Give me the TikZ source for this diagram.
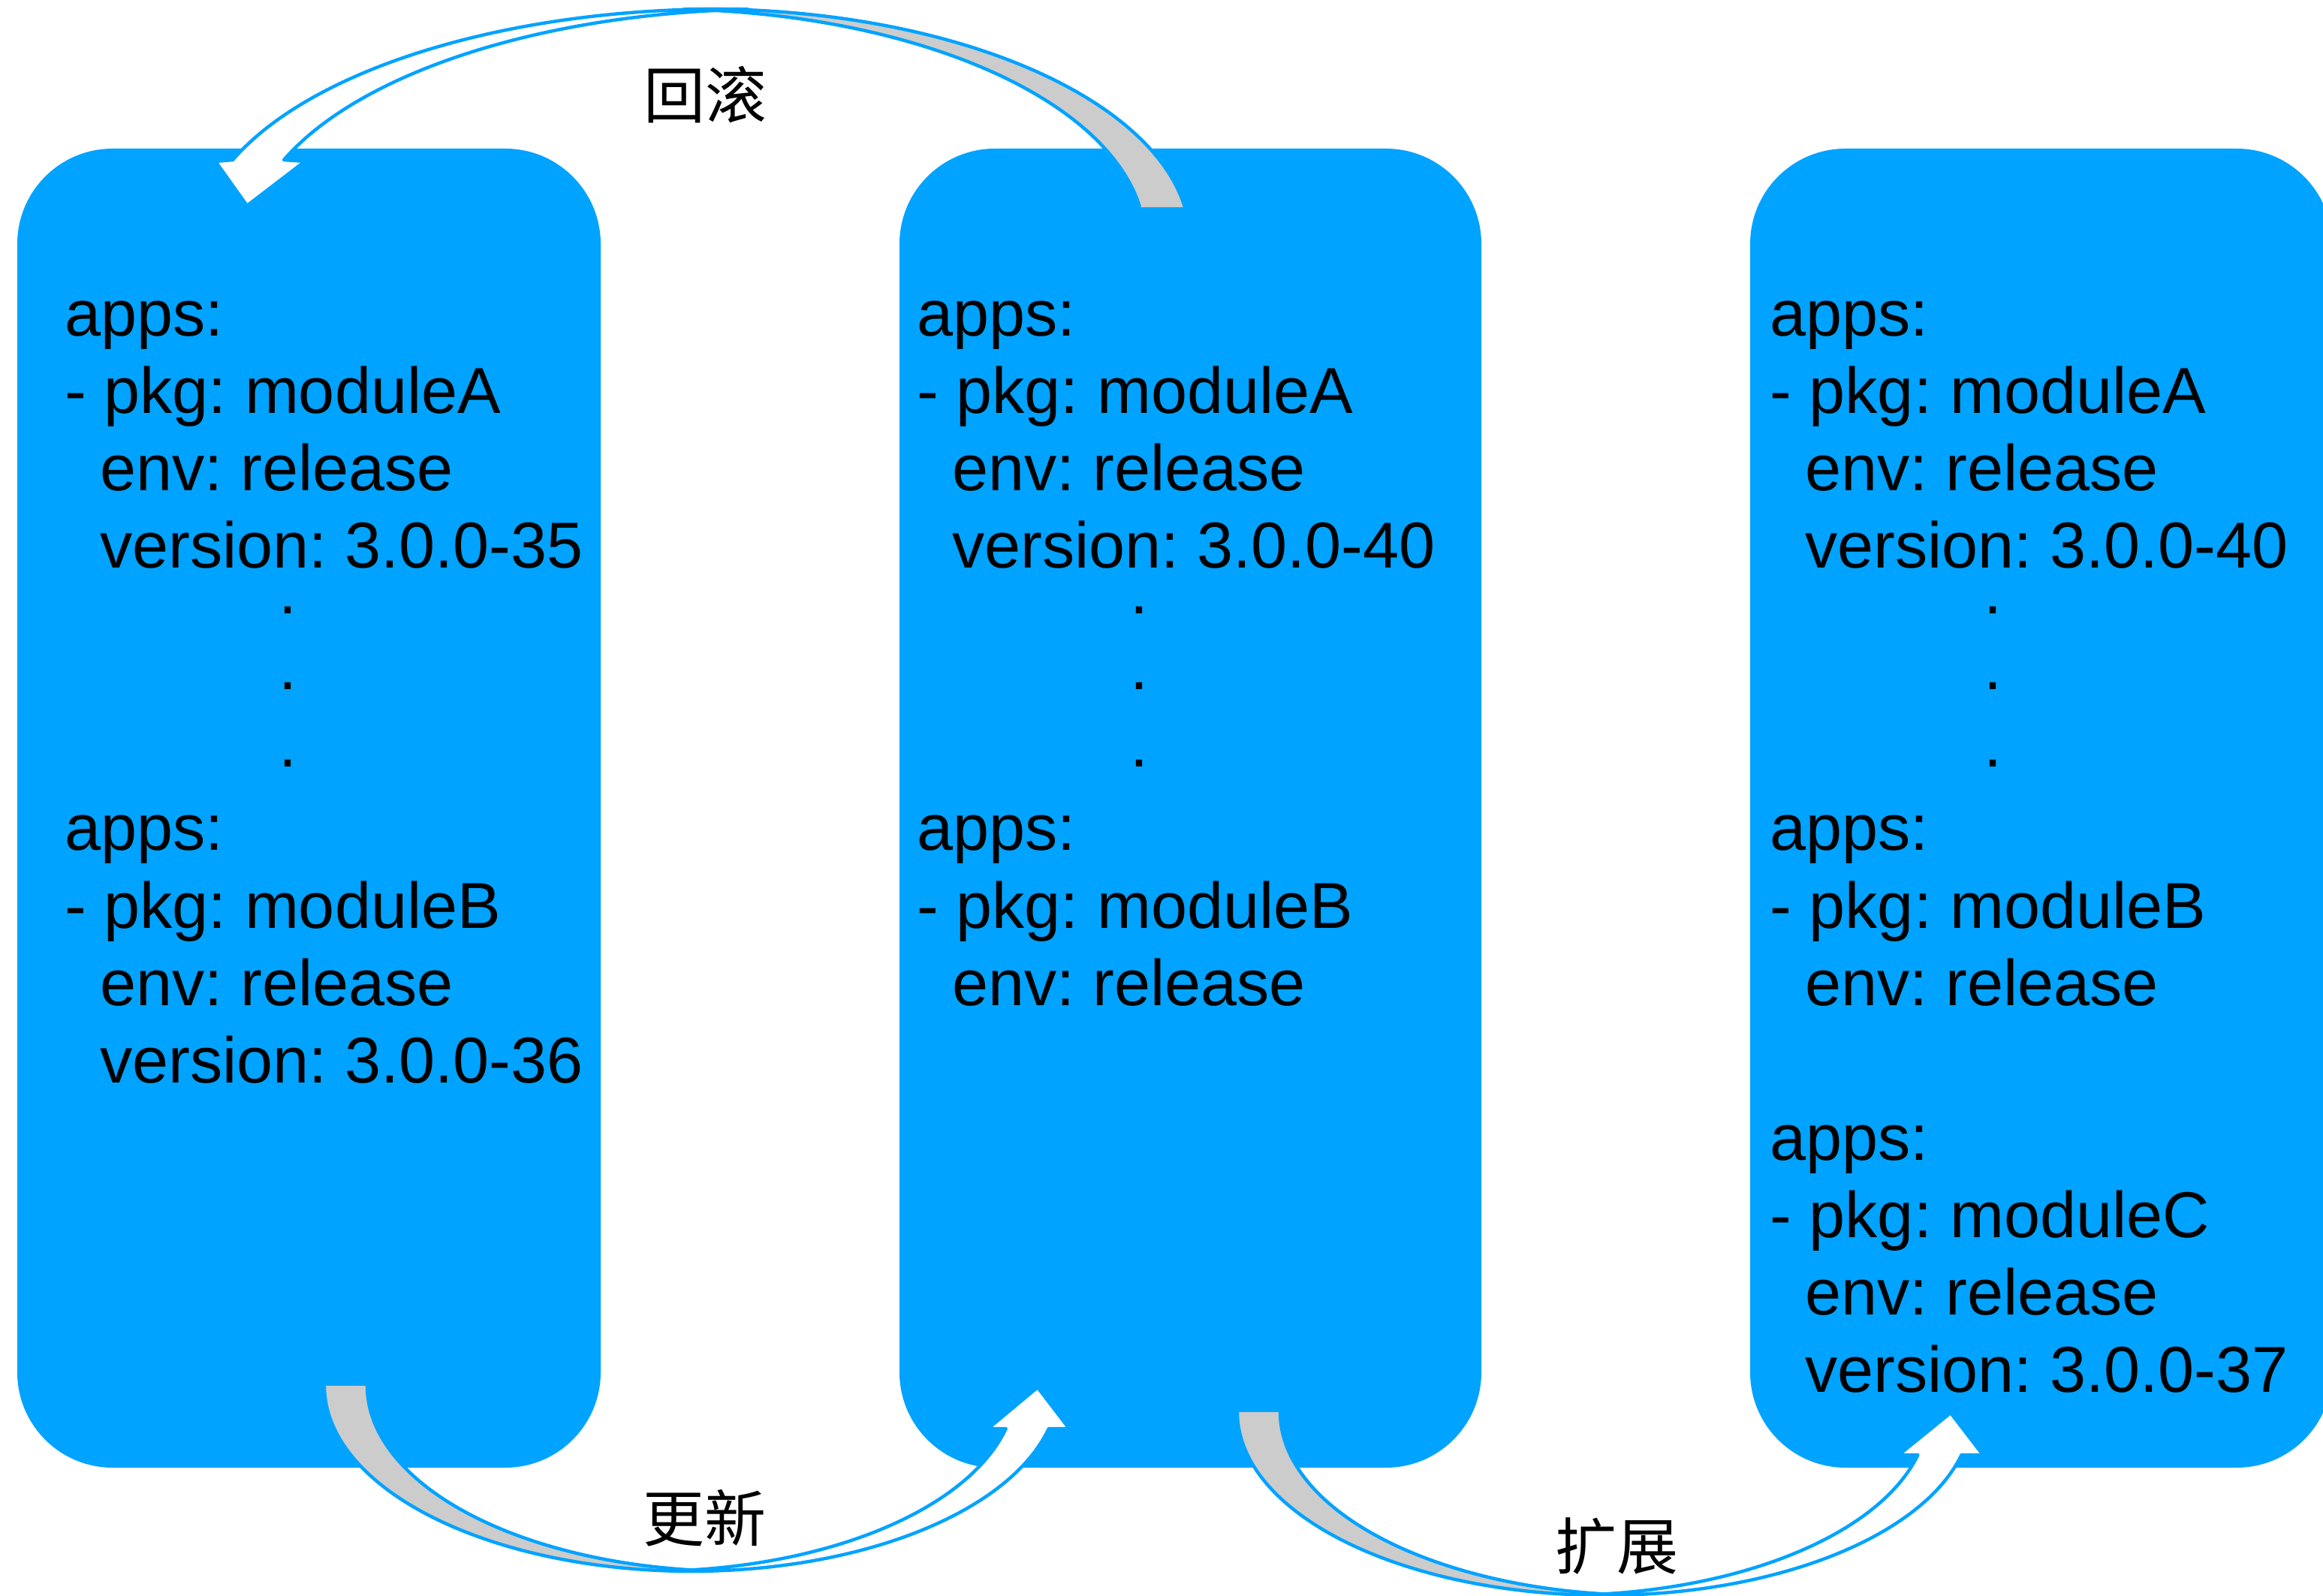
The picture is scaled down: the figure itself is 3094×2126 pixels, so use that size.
\documentclass[tikz,border=0pt]{standalone}
\usepackage{fontspec}
\setmainfont{Liberation Sans}
\newfontfamily\cjk{Noto Sans CJK SC}
\frenchspacing
\definecolor{boxblue}{RGB}{0,163,255}
\definecolor{backgrey}{RGB}{204,204,204}
\tikzset{
  box/.style={fill=boxblue, draw=none, rounded corners=31.75pt, minimum height=439.25pt, inner sep=0pt, outer sep=0pt},
  txt/.style={anchor=base west, inner sep=0pt, outer sep=0pt, text=black, font=\frenchspacing\fontsize{21.6pt}{26pt}\selectfont},
  ellipsisdot/.style={anchor=base, inner sep=0pt, outer sep=0pt, text=black, font=\fontsize{21.6pt}{26pt}\selectfont},
  lbl/.style={inner sep=0pt, outer sep=0pt, text=black, font=\cjk\fontsize{20.5pt}{24pt}\selectfont},
  arrline/.style={draw=boxblue, line width=1.1pt, line join=round}
}
\newcommand\yamlline[4]{\node[txt] (#1) at (#2,#3) {#4};}
\begin{document}
\begin{tikzpicture}[x=0.25pt, y=-0.25pt]
\fill[white] (0,0) rectangle (3094,2126);
\useasboundingbox (0,0) rectangle (3094,2126);

% boxes
\node[box, minimum width=194.25pt] (b1) at (411.5,1076.5) {};
\node[box, minimum width=193.75pt] (b2) at (1585.5,1076.5) {};
\node[box, minimum width=193.75pt] (b3) at (2718.5,1076.5) {};

% box 1 text
\yamlline{a1}{86}{448}{apps:}
\yamlline{a2}{86}{551}{- pkg: moduleA}
\yamlline{a3}{133}{654}{env: release}
\yamlline{a4}{133}{757}{version: 3.0.0-35}
\node[ellipsisdot] (ad1) at (383,818) {.};
\node[ellipsisdot] (ad2) at (383,919) {.};
\node[ellipsisdot] (ad3) at (383,1022) {.};
\yamlline{a5}{86}{1133}{apps:}
\yamlline{a6}{86}{1236}{- pkg: moduleB}
\yamlline{a7}{133}{1339}{env: release}
\yamlline{a8}{133}{1442}{version: 3.0.0-36}

% box 2 text
\yamlline{c1}{1221}{448}{apps:}
\yamlline{c2}{1221}{551}{- pkg: moduleA}
\yamlline{c3}{1268}{654}{env: release}
\yamlline{c4}{1268}{757}{version: 3.0.0-40}
\node[ellipsisdot] (cd1) at (1517,818) {.};
\node[ellipsisdot] (cd2) at (1517,919) {.};
\node[ellipsisdot] (cd3) at (1517,1022) {.};
\yamlline{c5}{1221}{1133}{apps:}
\yamlline{c6}{1221}{1236}{- pkg: moduleB}
\yamlline{c7}{1268}{1339}{env: release}

% box 3 text
\yamlline{e1}{2357}{448}{apps:}
\yamlline{e2}{2357}{551}{- pkg: moduleA}
\yamlline{e3}{2404}{654}{env: release}
\yamlline{e4}{2404}{757}{version: 3.0.0-40}
\node[ellipsisdot] (ed1) at (2654,818) {.};
\node[ellipsisdot] (ed2) at (2654,919) {.};
\node[ellipsisdot] (ed3) at (2654,1022) {.};
\yamlline{e5}{2357}{1133}{apps:}
\yamlline{e6}{2357}{1236}{- pkg: moduleB}
\yamlline{e7}{2404}{1339}{env: release}
\yamlline{e8}{2357}{1545}{apps:}
\yamlline{e9}{2357}{1648}{- pkg: moduleC}
\yamlline{e10}{2404}{1751}{env: release}
\yamlline{e11}{2404}{1854}{version: 3.0.0-37}

% ---- top arrow (rollback), box 2 -> box 1
% back face (grey crescent)
\fill[backgrey] plot[domain=8.4:92.67, samples=90] ({940+645*cos(\x)},{321-309*sin(\x)})
  -- plot[domain=87.33:8.4, samples=90] ({880+645*cos(\x)},{321-309*sin(\x)}) -- cycle;
\draw[arrline] plot[domain=8.4:92.67, samples=90] ({940+645*cos(\x)},{321-309*sin(\x)});
\draw[arrline] plot[domain=8.4:87.33, samples=90] ({880+645*cos(\x)},{321-309*sin(\x)});
% front shaft with head
\coordinate (h1l) at (287,215);
\coordinate (h1t) at (329,274);
\coordinate (h1r) at (406,215);
\filldraw[fill=white, arrline] plot[domain=87.2:158.66, samples=90] ({962+700*cos(\x)},{328-316*sin(\x)})
  -- (h1l) -- (h1t) -- (h1r)
  -- plot[domain=158.66:92.8, samples=90] ({1030+700*cos(\x)},{328-316*sin(\x)}) -- cycle;

% ---- bottom arrow (update), box 1 -> box 2
\fill[backgrey] plot[domain=180:86.66, samples=90] ({921+489*cos(\x)},{1846+247*sin(\x)})
  -- plot[domain=93.34:180, samples=90] ({978+489*cos(\x)},{1846+247*sin(\x)}) -- cycle;
\draw[arrline] plot[domain=180:86.66, samples=90] ({921+489*cos(\x)},{1846+247*sin(\x)});
\draw[arrline] plot[domain=180:93.34, samples=90] ({978+489*cos(\x)},{1846+247*sin(\x)});
\coordinate (h2r) at (1424,1903);
\coordinate (h2t) at (1382,1848);
\coordinate (h2l) at (1316,1903);
\filldraw[fill=white, arrline] plot[domain=93.34:13.34, samples=90] ({921+489*cos(\x)},{1846+247*sin(\x)})
  -- (h2r) -- (h2t) -- (h2l)
  -- plot[domain=13.34:86.66, samples=90] ({864+489*cos(\x)},{1846+247*sin(\x)}) -- cycle;

% ---- bottom arrow (extend), box 2 -> box 3
\fill[backgrey] plot[domain=180:86.66, samples=90] ({2137+489*cos(\x)},{1881+244*sin(\x)})
  -- plot[domain=93.34:180, samples=90] ({2194+489*cos(\x)},{1881+244*sin(\x)}) -- cycle;
\draw[arrline] plot[domain=180:86.66, samples=90] ({2137+489*cos(\x)},{1881+244*sin(\x)});
\draw[arrline] plot[domain=180:93.34, samples=90] ({2194+489*cos(\x)},{1881+244*sin(\x)});
\coordinate (h3r) at (2641,1938);
\coordinate (h3t) at (2598,1882);
\coordinate (h3l) at (2529,1938);
\filldraw[fill=white, arrline] plot[domain=93.34:13.5, samples=90] ({2137+489*cos(\x)},{1881+244*sin(\x)})
  -- (h3r) -- (h3t) -- (h3l)
  -- plot[domain=13.5:86.66, samples=90] ({2079+489*cos(\x)},{1881+244*sin(\x)}) -- cycle;

% labels
\node[lbl] (l1) at (939,126) {回滚};
\node[lbl] (l2) at (938,2022) {更新};
\node[lbl] (l3) at (2153,2060) {扩展};
\end{tikzpicture}
\end{document}
